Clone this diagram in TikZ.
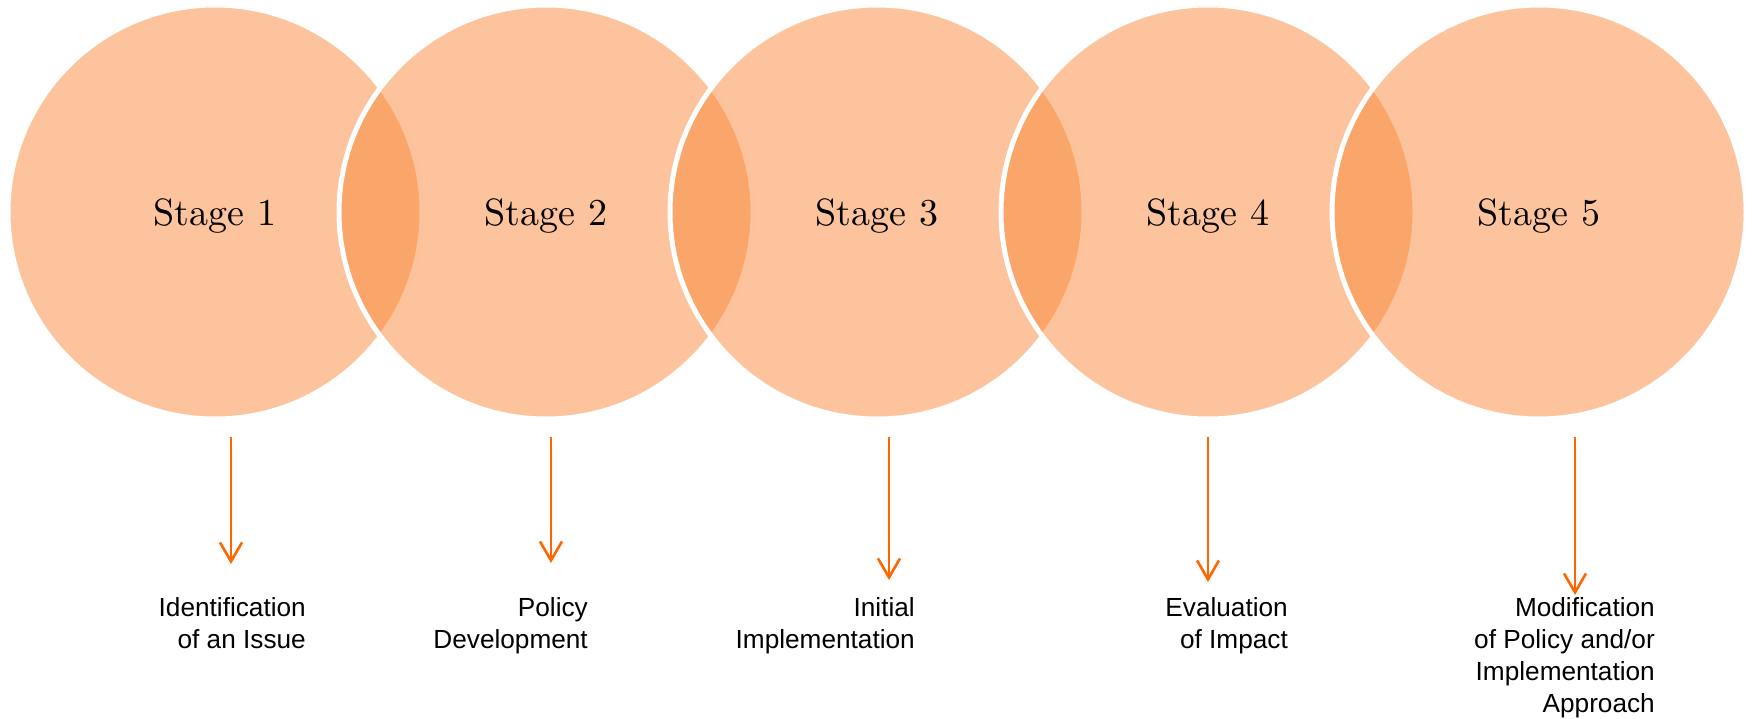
\documentclass[tikz,border=0pt]{standalone}
\usepackage{fontspec}
\newfontfamily\labelfont{Liberation Sans}
\newfontfamily\stagefont{lmroman10-regular}[Extension=.otf]
\usetikzlibrary{arrows.meta}
\definecolor{stagefill}{RGB}{249,135,57}
\definecolor{arrowcol}{RGB}{255,102,0}
\tikzset{
  stagecircle/.style={circle, minimum size=414pt, inner sep=0pt, fill=stagefill, fill opacity=0.5, draw=white, draw opacity=1, line width=5pt},
  stagetext/.style={anchor=base, inner sep=0pt, font=\stagefont\fontsize{38}{44}\selectfont, text=black},
  outlabel/.style={anchor=north east, inner sep=0pt, align=right, font=\labelfont\fontsize{26.2}{32}\selectfont, text=black},
  stagearrow/.style={draw=arrowcol, line width=2.6pt, -{Straight Barb[length=19pt,width=22pt,line width=2.6pt]}}
}
\begin{document}
\begin{tikzpicture}[x=1pt,y=-1pt]
\useasboundingbox (0,0) rectangle (1756,718);
% circles
\node[stagecircle] (c1) at (215,212) {};
\node[stagecircle] (c2) at (546,212) {};
\node[stagecircle] (c3) at (877,212) {};
\node[stagecircle] (c4) at (1208,212) {};
\node[stagecircle] (c5) at (1539,212) {};
% stage texts
\node[stagetext] (t1) at (215,225) {Stage 1};
\node[stagetext] (t2) at (546,225) {Stage 2};
\node[stagetext] (t3) at (877,225) {Stage 3};
\node[stagetext] (t4) at (1208,225) {Stage 4};
\node[stagetext] (t5) at (1539,225) {Stage 5};
% arrows
\coordinate (a1s) at (231,437); \coordinate (a1e) at (231,564);
\coordinate (a2s) at (551,437); \coordinate (a2e) at (551,563);
\coordinate (a3s) at (889,437); \coordinate (a3e) at (889,580);
\coordinate (a4s) at (1208,437); \coordinate (a4e) at (1208,582);
\coordinate (a5s) at (1575,437); \coordinate (a5e) at (1575,595);
\draw[stagearrow] (a1s) -- (a1e);
\draw[stagearrow] (a2s) -- (a2e);
\draw[stagearrow] (a3s) -- (a3e);
\draw[stagearrow] (a4s) -- (a4e);
\draw[stagearrow] (a5s) -- (a5e);
% labels
\node[outlabel] (l1) at (306,597) {Identification\\of an Issue};
\node[outlabel] (l2) at (588,597) {Policy\\Development};
\node[outlabel] (l3) at (915,597) {Initial\\Implementation};
\node[outlabel] (l4) at (1288,597) {Evaluation\\of Impact};
\node[outlabel] (l5) at (1655,597) {Modification\\of Policy and/or\\Implementation\\Approach};
\end{tikzpicture}
\end{document}
